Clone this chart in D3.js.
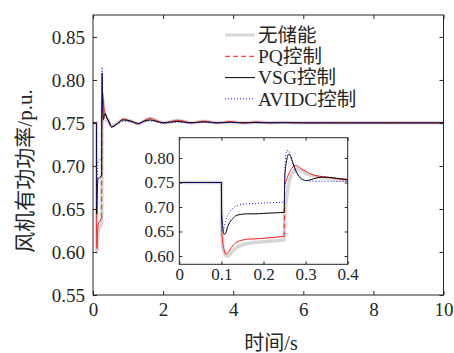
<!DOCTYPE html>
<html>
<head>
<meta charset="utf-8">
<script src="https://cdn.jsdelivr.net/npm/d3@7"></script>
<style>
  body { margin: 0; background: #fff; }
  text { font-family: "Times New Roman", "Liberation Serif", "Noto Sans CJK SC", serif; fill: #262626; }
</style>
</head>
<body>
<div id="chart"></div>
<script>
// time samples (s) around the fault, shared by all series
const timeFast = [0, 0.1, 0.1005, 0.103, 0.107, 0.11, 0.115, 0.12, 0.128, 0.136, 0.148, 0.16, 0.18, 0.2, 0.225, 0.249,
  0.2505, 0.255, 0.26, 0.265, 0.27, 0.275, 0.28, 0.285, 0.29, 0.3, 0.31, 0.32, 0.34, 0.36, 0.38, 0.4];
const timeSlow = [0.45, 0.53, 0.7, 0.86, 1.05, 1.3, 1.45, 1.63, 1.8, 2.0, 2.2, 2.4, 2.6, 2.78, 2.95, 3.15, 3.35, 3.52,
  3.7, 3.9, 4.1, 4.28, 4.45, 4.65, 5.0, 5.5, 6, 7, 8, 9, 10];

const noneFast = [0.75, 0.75, 0.66, 0.625, 0.607, 0.601, 0.600, 0.603, 0.611, 0.617, 0.622, 0.625, 0.628, 0.629, 0.631, 0.633,
  0.68, 0.72, 0.748, 0.763, 0.771, 0.776, 0.778, 0.777, 0.774, 0.769, 0.765, 0.763, 0.760, 0.758, 0.756, 0.755];
const noneSlow = [0.752, 0.746, 0.7498, 0.7542, 0.7525, 0.749, 0.7522, 0.7550, 0.7528, 0.7502, 0.7512, 0.7530, 0.7518,
  0.7502, 0.7508, 0.7520, 0.7511, 0.7501, 0.7506, 0.7514, 0.7507, 0.7501, 0.7504, 0.7510, 0.7503, 0.7505, 0.7502, 0.7502,
  0.7501, 0.7501, 0.7501];

const pqFast = [0.75, 0.75, 0.66, 0.63, 0.61, 0.604, 0.606, 0.612, 0.622, 0.628, 0.632, 0.634, 0.635, 0.636, 0.638, 0.640,
  0.745, 0.757, 0.768, 0.776, 0.782, 0.785, 0.784, 0.781, 0.778, 0.773, 0.768, 0.765, 0.762, 0.760, 0.757, 0.755];
const pqSlow = [0.752, 0.7455, 0.7495, 0.7545, 0.7525, 0.7488, 0.7525, 0.7555, 0.7530, 0.7500, 0.7512, 0.7532, 0.7520,
  0.7500, 0.7508, 0.7522, 0.7512, 0.7500, 0.7506, 0.7516, 0.7508, 0.7500, 0.7504, 0.7512, 0.7503, 0.7506, 0.7502, 0.7502,
  0.7501, 0.7501, 0.7501];

const vsgFast = [0.75, 0.75, 0.69, 0.66, 0.644, 0.646, 0.660, 0.669, 0.677, 0.683, 0.685, 0.686, 0.686, 0.687, 0.688, 0.689,
  0.76, 0.795, 0.808, 0.803, 0.790, 0.778, 0.769, 0.762, 0.758, 0.754, 0.755, 0.758, 0.761, 0.760, 0.758, 0.756];
const vsgSlow = [0.752, 0.7455, 0.7495, 0.7535, 0.7525, 0.7495, 0.752, 0.7535, 0.752, 0.7503, 0.751, 0.7518, 0.751,
  0.7503, 0.7506, 0.7512, 0.7508, 0.7502, 0.7504, 0.7508, 0.7505, 0.7501, 0.7503, 0.7505, 0.7502, 0.7503, 0.7501, 0.7501,
  0.7501, 0.7501, 0.7501];

const avidcFast = [0.75, 0.75, 0.70, 0.652, 0.660, 0.672, 0.683, 0.690, 0.698, 0.702, 0.705, 0.7065, 0.707, 0.708, 0.709, 0.710,
  0.77, 0.815, 0.815, 0.800, 0.787, 0.775, 0.766, 0.760, 0.757, 0.754, 0.753, 0.7525, 0.7525, 0.7525, 0.752, 0.752];
const avidcSlow = [0.7495, 0.745, 0.7485, 0.752, 0.7515, 0.749, 0.751, 0.7522, 0.7512, 0.7497, 0.7503, 0.751, 0.7505,
  0.7498, 0.7502, 0.7507, 0.7503, 0.7499, 0.7501, 0.7504, 0.7502, 0.75, 0.7501, 0.7502, 0.75, 0.7501, 0.75, 0.75, 0.75,
  0.75, 0.75];

const seriesNames = ['无储能', 'PQ控制', 'VSG控制', 'AVIDC控制'];
const mainXTicks = [0, 2, 4, 6, 8, 10];
const mainYTicks = [0.55, 0.60, 0.65, 0.70, 0.75, 0.80, 0.85];
const insetXTicks = [0, 0.1, 0.2, 0.3, 0.4];
const insetYTicks = [0.60, 0.65, 0.70, 0.75, 0.80];

const styles = [
  { stroke: '#d6d6d6', width: 3.5, dash: null },
  { stroke: '#ff1a1a', width: 1, dash: '5,3' },
  { stroke: '#000000', width: 1, dash: null },
  { stroke: '#1a1aff', width: 1, dash: '1,2' },
];

const toPoints = (tf, vf, ts, vs) => tf.map((t, i) => [t, vf[i]]).concat(ts.map((t, i) => [t, vs[i]]));
const series = [
  toPoints(timeFast, noneFast, timeSlow, noneSlow),
  toPoints(timeFast, pqFast, timeSlow, pqSlow),
  toPoints(timeFast, vsgFast, timeSlow, vsgSlow),
  toPoints(timeFast, avidcFast, timeSlow, avidcSlow),
];
// dense samples make the dashed red trace look solid except across the 0.25 s jump
const jumpIdx = timeFast.indexOf(0.2505);

const width = 454, height = 353;
const svg = d3.select('#chart').append('svg').attr('width', width).attr('height', height);

function drawAxes(g, x, y, xTicks, yTicks, fontSize, tick, xFmt, yFmt, xPad, yPad) {
  const [x0, x1] = x.range();
  const [y0, y1] = y.range();
  g.append('g').attr('transform', `translate(0,${y0})`)
    .call(d3.axisBottom(x).tickValues(xTicks).tickSize(-tick).tickPadding(xPad).tickFormat(xFmt))
    .call(a => a.select('.domain').remove());
  g.append('g').attr('transform', `translate(0,${y1})`)
    .call(d3.axisTop(x).tickValues(xTicks).tickSize(-tick).tickFormat(''))
    .call(a => a.select('.domain').remove());
  g.append('g').attr('transform', `translate(${x0},0)`)
    .call(d3.axisLeft(y).tickValues(yTicks).tickSize(-tick).tickPadding(yPad).tickFormat(yFmt))
    .call(a => a.select('.domain').remove());
  g.append('g').attr('transform', `translate(${x1},0)`)
    .call(d3.axisRight(y).tickValues(yTicks).tickSize(-tick).tickFormat(''))
    .call(a => a.select('.domain').remove());
  g.selectAll('.tick line').attr('stroke', '#262626');
  g.selectAll('.tick text').style('font-size', fontSize + 'px').attr('fill', '#262626');
  g.append('rect').attr('x', x0).attr('y', y1).attr('width', x1 - x0).attr('height', y0 - y1)
    .attr('fill', 'none').attr('stroke', '#262626').attr('stroke-width', 1);
}

function drawLines(g, x, y, clipId) {
  const [x0, x1] = x.range();
  const [y0, y1] = y.range();
  svg.append('clipPath').attr('id', clipId).append('rect')
    .attr('x', x0).attr('y', y1).attr('width', x1 - x0).attr('height', y0 - y1);
  const line = d3.line().x(d => x(d[0])).y(d => y(d[1])).curve(d3.curveMonotoneX);
  const plot = g.append('g').attr('clip-path', `url(#${clipId})`);
  series.forEach((pts, i) => {
    const s = styles[i];
    if (i === 1) {
      [pts.slice(0, jumpIdx), pts.slice(jumpIdx)].forEach(part => {
        plot.append('path').attr('d', line(part)).attr('fill', 'none')
          .attr('stroke', s.stroke).attr('stroke-width', s.width);
      });
      plot.append('path').attr('d', d3.line().x(d => x(d[0])).y(d => y(d[1]))(pts.slice(jumpIdx - 1, jumpIdx + 1)))
        .attr('fill', 'none').attr('stroke', s.stroke).attr('stroke-width', s.width).attr('stroke-dasharray', s.dash);
    } else {
      plot.append('path').attr('d', line(pts)).attr('fill', 'none')
        .attr('stroke', s.stroke).attr('stroke-width', s.width).attr('stroke-dasharray', s.dash);
    }
  });
}

// main plot
const x = d3.scaleLinear().domain([0, 10]).range([93, 443.5]);
const y = d3.scaleLinear().domain([0.55, 0.8755]).range([295, 15]);
const main = svg.append('g');
drawLines(main, x, y, 'clip-main');
drawAxes(main, x, y, mainXTicks, mainYTicks, 19, 4, d3.format('d'), d3.format('.2f'), 8, 8);

// legend
const legend = svg.append('g');
seriesNames.forEach((name, i) => {
  const ly = 35 + i * 21.3;
  legend.append('line').attr('x1', 225).attr('x2', 255).attr('y1', ly).attr('y2', ly)
    .attr('stroke', styles[i].stroke).attr('stroke-width', Math.min(styles[i].width, 3))
    .attr('stroke-dasharray', styles[i].dash);
  legend.append('text').attr('x', 258).attr('y', ly).attr('dy', '0.35em')
    .style('font-size', '19.5px').text(name);
});

// inset
const xi = d3.scaleLinear().domain([0, 0.4]).range([179.3, 347.7]);
const yi = d3.scaleLinear().domain([0.583, 0.8415]).range([264.3, 137.7]);
const inset = svg.append('g');
inset.append('rect').attr('x', 179.3).attr('y', 137.7).attr('width', 168.4).attr('height', 126.6).attr('fill', '#fff');
drawLines(inset, xi, yi, 'clip-inset');
drawAxes(inset, xi, yi, insetXTicks, insetYTicks, 17, 3, d => d === 0 ? '0' : d3.format('.1f')(d), d3.format('.2f'), 4, 5);

// axis titles
svg.append('text').attr('x', 271).attr('y', 343).attr('dy', '0.35em').attr('text-anchor', 'middle')
  .style('font-size', '20px').text('时间/s');
svg.append('text').attr('transform', 'translate(25,171) rotate(-90)').attr('dy', '0.35em')
  .attr('text-anchor', 'middle').style('font-size', '21px').text('风机有功功率/p.u.');
</script>
</body>
</html>
